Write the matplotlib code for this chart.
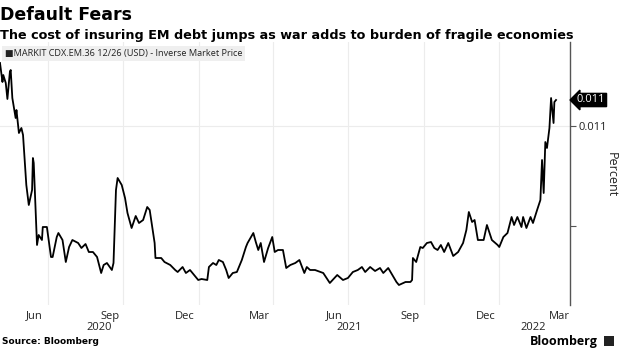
import pandas as pd
import matplotlib
matplotlib.use('Agg')
import matplotlib.pyplot as plt
from matplotlib.patches import FancyBboxPatch

# data (inverse market price, percent)
dates = [
    '2020-05-04', '2020-05-07', '2020-05-08', '2020-05-11', '2020-05-13', '2020-05-16',
    '2020-05-17', '2020-05-19', '2020-05-23', '2020-05-24', '2020-05-27', '2020-05-30',
    '2020-06-01', '2020-06-05', '2020-06-08', '2020-06-12', '2020-06-13', '2020-06-14',
    '2020-06-18', '2020-06-20', '2020-06-24', '2020-06-25', '2020-06-30', '2020-07-05',
    '2020-07-07', '2020-07-12', '2020-07-14', '2020-07-19', '2020-07-23', '2020-07-27',
    '2020-07-31', '2020-08-07', '2020-08-11', '2020-08-16', '2020-08-20', '2020-08-25',
    '2020-08-30', '2020-09-04', '2020-09-07', '2020-09-11', '2020-09-17', '2020-09-19',
    '2020-09-22', '2020-09-24', '2020-09-29', '2020-10-03', '2020-10-06', '2020-10-11',
    '2020-10-16', '2020-10-20', '2020-10-25', '2020-10-30', '2020-11-02', '2020-11-08',
    '2020-11-09', '2020-11-16', '2020-11-20', '2020-11-27', '2020-12-03', '2020-12-06',
    '2020-12-12', '2020-12-16', '2020-12-21', '2020-12-26', '2020-12-31', '2021-01-04',
    '2021-01-11', '2021-01-13', '2021-01-18', '2021-01-22', '2021-01-25', '2021-01-30',
    '2021-02-03', '2021-02-06', '2021-02-11', '2021-02-16', '2021-02-22', '2021-02-27',
    '2021-03-01', '2021-03-08', '2021-03-11', '2021-03-14', '2021-03-17', '2021-03-21',
    '2021-03-26', '2021-03-31', '2021-04-03', '2021-04-07', '2021-04-13', '2021-04-17',
    '2021-04-22', '2021-04-28', '2021-05-03', '2021-05-09', '2021-05-12', '2021-05-16',
    '2021-05-22', '2021-06-01', '2021-06-09', '2021-06-18', '2021-06-25', '2021-07-01',
    '2021-07-07', '2021-07-13', '2021-07-18', '2021-07-22', '2021-07-28', '2021-08-03',
    '2021-08-09', '2021-08-13', '2021-08-19', '2021-08-24', '2021-08-29', '2021-09-01',
    '2021-09-09', '2021-09-15', '2021-09-17', '2021-09-18', '2021-09-22', '2021-09-27',
    '2021-09-30', '2021-10-05', '2021-10-10', '2021-10-14', '2021-10-18', '2021-10-22',
    '2021-10-26', '2021-10-31', '2021-11-06', '2021-11-12', '2021-11-18', '2021-11-22',
    '2021-11-25', '2021-11-29', '2021-12-02', '2021-12-06', '2021-12-13', '2021-12-17',
    '2021-12-23', '2021-12-30', '2022-01-01', '2022-01-06', '2022-01-11', '2022-01-16',
    '2022-01-19', '2022-01-23', '2022-01-28', '2022-01-30', '2022-02-03', '2022-02-08',
    '2022-02-11', '2022-02-16', '2022-02-20', '2022-02-22', '2022-02-24', '2022-02-26',
    '2022-02-28', '2022-03-03', '2022-03-05', '2022-03-08', '2022-03-09', '2022-03-11',
]
price = [
    0.011315, 0.011220, 0.011255, 0.011215, 0.011135, 0.011270,
    0.011280, 0.011140, 0.011040, 0.011080, 0.010965, 0.010990,
    0.010955, 0.010705, 0.010605, 0.010680, 0.010840, 0.010815,
    0.010405, 0.010455, 0.010430, 0.010495, 0.010495, 0.010345,
    0.010345, 0.010445, 0.010465, 0.010430, 0.010320, 0.010395,
    0.010430, 0.010415, 0.010390, 0.010410, 0.010370, 0.010370,
    0.010345, 0.010265, 0.010305, 0.010315, 0.010280, 0.010315,
    0.010680, 0.010740, 0.010705, 0.010640, 0.010565, 0.010490,
    0.010550, 0.010515, 0.010530, 0.010595, 0.010580, 0.010415,
    0.010340, 0.010340, 0.010320, 0.010305, 0.010280, 0.010270,
    0.010295, 0.010265, 0.010280, 0.010255, 0.010230, 0.010235,
    0.010230, 0.010295, 0.010315, 0.010305, 0.010330, 0.010320,
    0.010280, 0.010240, 0.010265, 0.010270, 0.010330, 0.010395,
    0.010415, 0.010465, 0.010420, 0.010380, 0.010415, 0.010320,
    0.010390, 0.010445, 0.010370, 0.010380, 0.010380, 0.010290,
    0.010305, 0.010315, 0.010330, 0.010265, 0.010295, 0.010280,
    0.010280, 0.010265, 0.010215, 0.010255, 0.010230, 0.010240,
    0.010270, 0.010280, 0.010295, 0.010270, 0.010295, 0.010275,
    0.010290, 0.010265, 0.010290, 0.010255, 0.010220, 0.010205,
    0.010220, 0.010220, 0.010230, 0.010340, 0.010320, 0.010395,
    0.010390, 0.010415, 0.010420, 0.010390, 0.010380, 0.010405,
    0.010370, 0.010415, 0.010350, 0.010370, 0.010415, 0.010480,
    0.010570, 0.010520, 0.010530, 0.010430, 0.010430, 0.010505,
    0.010430, 0.010405, 0.010395, 0.010445, 0.010465, 0.010545,
    0.010505, 0.010545, 0.010495, 0.010545, 0.010490, 0.010545,
    0.010515, 0.010580, 0.010630, 0.010830, 0.010665, 0.010920,
    0.010890, 0.010990, 0.011140, 0.011015, 0.011120, 0.011130,
]

month_ticks = ['2020-06-15', '2020-09-15', '2020-12-15', '2021-03-15',
               '2021-06-15', '2021-09-15', '2021-12-15', '2022-03-15']
month_labels = ['Jun', 'Sep', 'Dec', 'Mar', 'Jun', 'Sep', 'Dec', 'Mar']
grid_dates = ['2020-07-01', '2020-10-01', '2021-01-01', '2021-04-01',
              '2021-07-01', '2021-10-01', '2022-01-01']
year_pos = ['2020-09-01', '2021-07-02', '2022-02-11']
year_labels = ['2020', '2021', '2022']

x = pd.to_datetime(dates)
W, H = 620, 348
txt = '#222222'

fig = plt.figure(figsize=(6.2, 3.48), dpi=100)
ax = fig.add_axes([0, (H - 305) / H, 570 / W, (305 - 42) / H])

for g in pd.to_datetime(grid_dates):
    ax.axvline(g, color='#ececec', lw=0.8, zorder=0)
ax.axhline(0.011, color='#ececec', lw=0.8, zorder=0)

ax.plot(x, price, color='black', lw=1.3)

ax.set_xlim(pd.Timestamp('2020-05-04'), pd.Timestamp('2022-03-28'))
ax.set_ylim(0.010105, 0.01142)

for s in ['top', 'left', 'bottom']:
    ax.spines[s].set_visible(False)
ax.spines['right'].set_color('#555555')
ax.spines['right'].set_linewidth(1.0)

ax.set_xticks(pd.to_datetime(month_ticks))
ax.set_xticklabels(month_labels, fontsize=8, family='Open Sans', color=txt)
ax.tick_params(axis='x', length=0, pad=4)

ax.yaxis.tick_right()
ax.set_yticks([0.0105, 0.011])
ax.set_yticklabels(['', '0.011'], fontsize=8, family='Open Sans', color=txt)
ax.tick_params(axis='y', length=4, width=0.8, color='#555555', pad=2)

for p, lab in zip(pd.to_datetime(year_pos), year_labels):
    ax.text(p, -0.085, lab, transform=ax.get_xaxis_transform(), ha='center',
            va='center', fontsize=8, family='Open Sans', color=txt)

# axis title, placed by hand so it stays inside the figure
fig.text(611 / W, 1 - 175 / H, 'Percent', rotation=270, fontsize=9,
         family='Open Sans', color=txt, ha='center', va='center')

# last value tag
ax.annotate('0.011', xy=(1, price[-1]), xycoords=('axes fraction', 'data'),
            xytext=(5, 0), textcoords='offset points', ha='left', va='center',
            fontsize=8, family='Open Sans', color='white',
            bbox=dict(boxstyle='larrow,pad=0.1', fc='black', ec='black'))

# legend tag
fig.text(5 / W, 1 - 53.5 / H, '\u25a0MARKIT CDX.EM.36 12/26 (USD) - Inverse Market Price',
         fontsize=6.6, family=['Open Sans', 'DejaVu Sans'], color=txt,
         ha='left', va='center',
         bbox=dict(boxstyle='square,pad=0.3', fc='#efefef', ec='none'))

fig.text(0, 1 - 15 / H, 'Default Fears', fontsize=12.5, fontweight='bold',
         ha='left', va='center')
fig.text(0, 1 - 35 / H, 'The cost of insuring EM debt jumps as war adds to burden of fragile economies',
         fontsize=9.2, fontweight='bold', ha='left', va='center')
fig.text(2 / W, 1 - 342 / H, 'Source: Bloomberg', fontsize=6.5, fontweight='bold',
         ha='left', va='center')
fig.text(598 / W, 1 - 341 / H, 'Bloomberg', fontsize=9, fontweight='bold',
         family='Open Sans', ha='right', va='center')
fig.patches.append(FancyBboxPatch((604 / W, 1 - 346 / H), 10 / W, 10 / H,
                                  boxstyle='round,pad=0', fc='#222222', ec='none',
                                  transform=fig.transFigure, figure=fig))

fig.savefig('out.png', dpi=100)
